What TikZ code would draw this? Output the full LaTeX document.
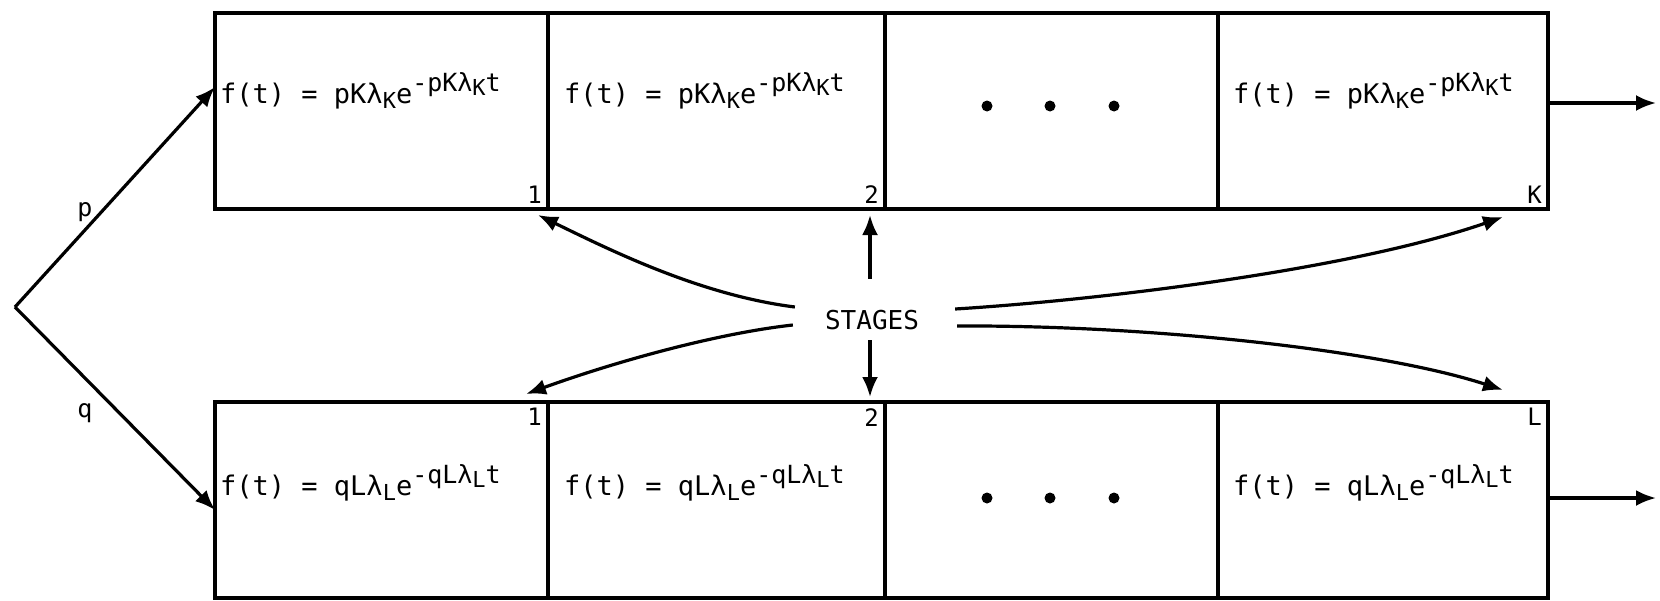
\documentclass[tikz,border=0pt]{standalone}
\usepackage{fontspec}
\setmonofont{DejaVu Sans Mono}
\usetikzlibrary{arrows.meta}
\newcommand{\lowpart}[1]{\raisebox{-0.35ex}{\fontsize{22}{22}\selectfont #1}}
\newcommand{\highpart}[1]{\raisebox{0.8ex}{\fontsize{25}{25}\selectfont #1}}
\newcommand{\ftop}{f(t) = pKλ\lowpart{K}e\highpart{-pKλ\lowpart{K}t}}
\newcommand{\fbot}{f(t) = qLλ\lowpart{L}e\highpart{-qLλ\lowpart{L}t}}
\begin{document}
\begin{tikzpicture}[x=1pt,y=-1pt,
  cell/.style={draw, line width=3.8pt, minimum height=196pt, inner sep=0pt, outer sep=0pt},
  arr/.style={line width=3.2pt, -{Latex[length=20pt,width=16pt]}},
  formula/.style={anchor=base west, inner sep=0pt, font=\ttfamily\fontsize{27}{27}\selectfont},
  num/.style={inner sep=0pt, font=\ttfamily\fontsize{24}{24}\selectfont},
  lbl/.style={inner sep=0pt, font=\ttfamily\fontsize{25}{25}\selectfont},
  dotn/.style={circle, fill, inner sep=0pt, minimum size=11pt},
]
\useasboundingbox (0,0) rectangle (1660,600);
% top row cells
\node[cell, minimum width=333pt] (t1) at (381.5,111) {};
\node[cell, minimum width=337pt] (t2) at (716.5,111) {};
\node[cell, minimum width=333pt] (t3) at (1051.5,111) {};
\node[cell, minimum width=330pt] (t4) at (1383,111) {};
% bottom row cells
\node[cell, minimum width=333pt] (b1) at (381.5,500) {};
\node[cell, minimum width=337pt] (b2) at (716.5,500) {};
\node[cell, minimum width=333pt] (b3) at (1051.5,500) {};
\node[cell, minimum width=330pt] (b4) at (1383,500) {};
% formulas
\node[formula] (ft1) at (220,103) {\ftop};
\node[formula] (ft2) at (564,103) {\ftop};
\node[formula] (ft4) at (1233,103) {\ftop};
\node[formula] (fb1) at (220,495) {\fbot};
\node[formula] (fb2) at (564,495) {\fbot};
\node[formula] (fb4) at (1233,495) {\fbot};
% dots
\node[dotn] (dt1) at (987,106) {};
\node[dotn] (dt2) at (1050,106) {};
\node[dotn] (dt3) at (1114,106) {};
\node[dotn] (db1) at (987,498) {};
\node[dotn] (db2) at (1050,498) {};
\node[dotn] (db3) at (1114,498) {};
% stage numbers
\node[num, anchor=south east] (nt1) at ([xshift=-6pt,yshift=5pt]t1.south east) {1};
\node[num, anchor=south east] (nt2) at ([xshift=-6pt,yshift=5pt]t2.south east) {2};
\node[num, anchor=south east] (nt4) at ([xshift=-6pt,yshift=5pt]t4.south east) {K};
\node[num, anchor=north east] (nb1) at ([xshift=-6pt,yshift=-6pt]b1.north east) {1};
\node[num, anchor=north east] (nb2) at ([xshift=-6pt,yshift=-6pt]b2.north east) {2};
\node[num, anchor=north east] (nb4) at ([xshift=-6pt,yshift=-6pt]b4.north east) {L};
% branch
\coordinate (br) at (15,307);
\node[lbl] (p) at (85,212) {p};
\node[lbl] (q) at (85,413) {q};
\draw[arr] (br) -- ([yshift=24pt]t1.west);
\draw[arr] (br) -- ([yshift=-10pt]b1.west);
% outputs
\coordinate (o1) at (1656,103);
\coordinate (o2) at (1656,498);
\draw[arr] ([yshift=8pt]t4.east) -- (o1);
\draw[arr] ([yshift=2pt]b4.east) -- (o2);
% stages
\node[inner sep=0pt, font=\ttfamily\fontsize{26}{26}\selectfont] (st) at (872,320) {STAGES};
\draw[arr] ([xshift=-2pt,yshift=31pt]st.north) -- ([xshift=-15pt,yshift=-6pt]t2.south east);
\draw[arr] ([xshift=-2pt,yshift=-10pt]st.south) -- ([xshift=-15pt,yshift=5pt]b2.north east);
\draw[arr] ([xshift=-30pt,yshift=13pt]st.west) .. controls (700,295) and (610,250) .. ([xshift=-10pt,yshift=-6pt]t1.south east);
\draw[arr] ([xshift=-32pt,yshift=-5pt]st.west) .. controls (720,333) and (620,360) .. ([xshift=-22pt,yshift=8pt]b1.north east);
\draw[arr] ([xshift=36pt,yshift=11pt]st.east) .. controls (1100,300) and (1350,270) .. ([xshift=-45pt,yshift=-8pt]t4.south east);
\draw[arr] ([xshift=38pt,yshift=-6pt]st.east) .. controls (1150,325) and (1380,350) .. ([xshift=-45pt,yshift=12pt]b4.north east);
\end{tikzpicture}
\end{document}
